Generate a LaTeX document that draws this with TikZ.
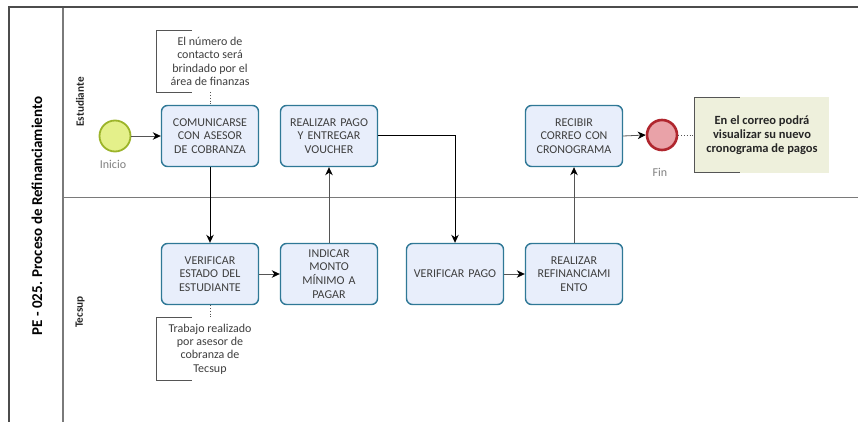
\documentclass[tikz,border=0pt]{standalone}
\usepackage{fontspec}
\setmainfont{Carlito}
\usetikzlibrary{arrows.meta,positioning}
\definecolor{taskfill}{HTML}{E8EEFB}
\definecolor{taskborder}{HTML}{2F7896}
\definecolor{tasktext}{HTML}{3F3F3F}
\definecolor{startfill}{HTML}{E4F08A}
\definecolor{startborder}{HTML}{9CB42A}
\definecolor{endfill}{HTML}{E9A2A8}
\definecolor{endborder}{HTML}{B0262E}
\definecolor{notefill}{HTML}{EEF0DC}
\definecolor{linegray}{HTML}{555555}
\definecolor{poolgray}{HTML}{7A7A7A}
\tikzset{
  task/.style={rectangle, rounded corners=6pt, draw=taskborder, line width=1.4pt,
    fill=taskfill, minimum width=97pt, minimum height=61pt, align=center,
    text width=93pt, inner sep=1pt, text=tasktext,
    font=\fontsize{12}{13.8}\selectfont},
  flow/.style={draw=linegray, line width=0.8pt, -{Stealth[length=8pt,width=7.5pt,inset=2.5pt,color=black]}},
  strongflow/.style={draw=black, line width=1pt, -{Stealth[length=8pt,width=7.5pt,inset=2.5pt]}},
  assoc/.style={draw=linegray, line width=0.8pt, dotted},
  note/.style={align=center, inner sep=0pt, text=tasktext,
    font=\fontsize{12}{13.4}\selectfont},
  bracket/.style={draw=linegray, line width=0.9pt},
  evlabel/.style={text=gray, font=\fontsize{12}{13}\selectfont},
  lanelabel/.style={rotate=90, font=\bfseries\fontsize{11.2}{12}\selectfont, text=black!85},
}
\begin{document}
\begin{tikzpicture}[x=1pt,y=-1pt]
\useasboundingbox (0,0) rectangle (858,422);
\fill[white] (0,0) rectangle (858,422);
% pool and lanes
\draw[poolgray, line width=0.8pt] (63,197) -- (858,197);
\draw[poolgray, line width=1.2pt] (63,7) -- (63,422);
\draw[black!70, line width=1.6pt] (9,422) -- (9,7) -- (858,7);
\node[rotate=90, font=\bfseries\fontsize{15}{16}\selectfont] (pool) at (37,216) {PE - 025. Proceso de Refinanciamiento};
\node[lanelabel] (lane1) at (80,102) {Estudiante};
\node[lanelabel] (lane2) at (80,312) {Tecsup};
% events
\node[circle, minimum size=31pt, inner sep=0pt, fill=startfill, draw=startborder, line width=1.8pt] (start) at (115,136) {};
\node[evlabel] (startlbl) at (113,164) {Inicio};
\node[circle, minimum size=30pt, inner sep=0pt, fill=endfill, draw=endborder, line width=2.6pt] (fin) at (662,135) {};
\node[evlabel] (finlbl) at (660,172) {Fin};
% tasks
\node[task] (comunicarse) at (210,136) {COMUNICARSE\\CON ASESOR\\DE COBRANZA};
\node[task] (pago) at (329,136) {REALIZAR PAGO\\Y ENTREGAR\\VOUCHER};
\node[task] (recibir) at (574,136) {RECIBIR\\CORREO CON\\CRONOGRAMA};
\node[task] (verestado) at (210,274) {VERIFICAR\\ESTADO DEL\\ESTUDIANTE};
\node[task] (indicar) at (329,274) {INDICAR\\MONTO\\MÍNIMO A\\PAGAR};
\node[task] (verpago) at (455,274) {VERIFICAR PAGO};
\node[task] (refin) at (574,274) {REALIZAR\\REFINANCIAMI\\ENTO};
% annotations
\node[note, minimum width=106pt, minimum height=61pt] (ann1) at (210,61.5) {El número de\\contacto será\\brindado por el\\área de finanzas};
\draw[bracket] ([xshift=35pt]ann1.north west) -- (ann1.north west) -- (ann1.south west) -- ([xshift=35pt]ann1.south west);
\node[note, minimum width=106pt, minimum height=62pt] (ann2) at (210,349) {Trabajo realizado\\por asesor de\\cobranza de\\Tecsup};
\draw[bracket] ([xshift=35pt]ann2.north west) -- (ann2.north west) -- (ann2.south west) -- ([xshift=35pt]ann2.south west);
\node[note, fill=notefill, minimum width=134pt, minimum height=75pt, text=black!85,
  font=\bfseries\fontsize{12.5}{14}\selectfont] (ann3) at (762,135) {En el correo podrá\\visualizar su nuevo\\cronograma de pagos};
\draw[bracket] ([xshift=45pt]ann3.north west) -- (ann3.north west) -- (ann3.south west) -- ([xshift=45pt]ann3.south west);
\draw[assoc] (ann1.south) -- (comunicarse.north);
\draw[assoc] (verestado.south) -- (ann2.north);
\draw[assoc] (fin.east) -- (ann3.west);
% flows
\draw[flow] (start) -- (comunicarse);
\draw[strongflow] (comunicarse) -- (verestado);
\draw[flow] (verestado) -- (indicar);
\draw[flow] (indicar) -- (pago);
\draw[strongflow] (pago.east) -| (verpago.north);
\draw[flow] (verpago) -- (refin);
\draw[flow] (refin) -- (recibir);
\draw[flow] (recibir.east) -- (fin.west);
\end{tikzpicture}
\end{document}
